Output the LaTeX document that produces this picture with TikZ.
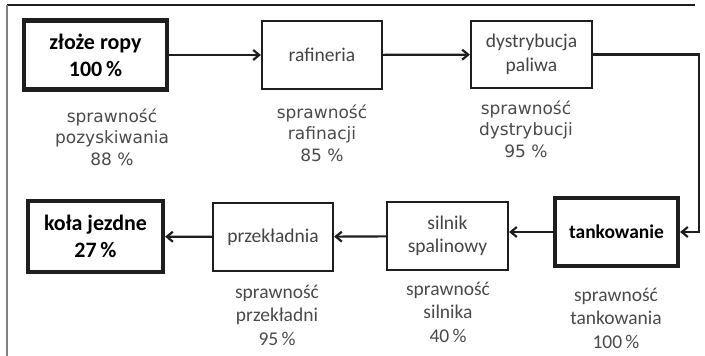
\documentclass[tikz,border=0pt]{standalone}
\usepackage{fontspec}
\usetikzlibrary{arrows.meta}
\newfontfamily\boxfont{Carlito}
\newfontfamily\labfont{DejaVu Sans}
\definecolor{boxtext}{HTML}{444444}
\definecolor{labtext}{HTML}{4A4A4A}
\definecolor{linecol}{HTML}{1E1E1E}
\tikzset{
  stage/.style={draw=linecol, line width=2.2pt, fill=white, inner sep=0pt, align=center,
    text=boxtext, font=\boxfont\fontsize{19.5}{23.5}\selectfont},
  keystage/.style={stage, line width=4.2pt, text=black,
    font=\boxfont\bfseries\fontsize{22}{27}\selectfont},
  uplabel/.style={align=center, text=labtext, inner sep=0pt,
    font=\labfont\fontsize{17}{21.5}\selectfont},
  lowlabel/.style={align=center, text=labtext, inner sep=0pt,
    font=\boxfont\fontsize{19.5}{23.5}\selectfont},
  flow/.style={draw=linecol, line width=2.2pt, -{Straight Barb[length=6pt,width=10pt]}}
}
\begin{document}
\begin{tikzpicture}[x=1pt,y=-1pt]
\useasboundingbox (0,0) rectangle (705,356);
% frame
\draw[linecol, line width=1.5pt] (7,5) -- (695,5);
\draw[gray, line width=2.2pt] (7,5) -- (7,356);
% stages
\node[keystage, minimum width=143pt, minimum height=69pt] (zloze) at (95.5,55) {złoże ropy\\100\,\%};
\node[stage, minimum width=120pt, minimum height=68pt] (raf) at (322,55) {rafineria};
\node[stage, minimum width=121pt, minimum height=67pt] (dys) at (531.5,54.5) {dystrybucja\\paliwa};
\node[keystage, minimum width=123pt, minimum height=68pt, font=\boxfont\bfseries\fontsize{19.5}{24}\selectfont] (tank) at (616.5,232) {tankowanie};
\node[stage, minimum width=121pt, minimum height=68pt] (siln) at (447.5,236) {silnik\\spalinowy};
\node[stage, minimum width=120pt, minimum height=68pt] (prz) at (273,237) {przekładnia};
\node[keystage, minimum width=135pt, minimum height=71pt] (kola) at (95.5,236.5) {koła jezdne\\27\,\%};
% labels
\node[uplabel] (l1) at (112,137) {sprawność\\pozyskiwania\\88 \%};
\node[uplabel] (l2) at (322,133) {sprawność\\rafinacji\\85 \%};
\node[uplabel] (l3) at (526,129) {sprawność\\dystrybucji\\95 \%};
\node[lowlabel] (l4) at (616,318) {sprawność\\tankowania\\100\,\%};
\node[lowlabel] (l5) at (448,312) {sprawność\\silnika\\40\,\%};
\node[lowlabel] (l6) at (277,315) {sprawność\\przekładni\\95\,\%};
% connectors
\draw[flow] (zloze) -- (raf);
\draw[flow] (raf) -- (dys);
\draw[flow] (dys.east) -- ++(106,0) |- (tank.east);
\draw[flow] (tank.west) -- (siln.east |- tank.west);
\draw[flow] (siln) -- (prz);
\draw[flow] (prz) -- (kola);
\end{tikzpicture}
\end{document}
